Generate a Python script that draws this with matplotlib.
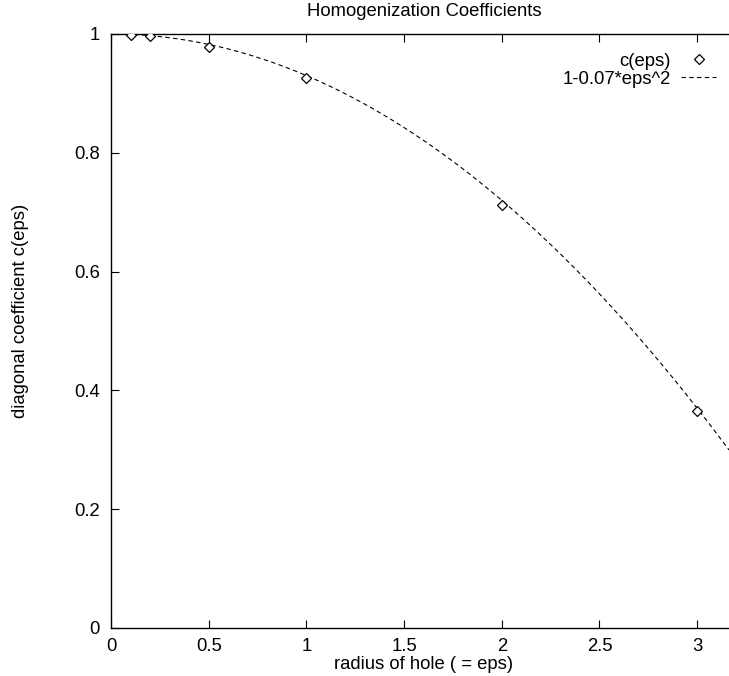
import numpy as np
import matplotlib
matplotlib.use("Agg")
import matplotlib.pyplot as plt

plt.rcParams['font.family'] = ['Liberation Sans', 'DejaVu Sans']

eps = [0.1, 0.2, 0.5, 1.0, 2.0, 3.0]
c_eps = [0.998, 0.996, 0.978, 0.926, 0.712, 0.365]
fit_coef = 0.07
x_max = 3.163

FS = 13.3

fig = plt.figure(figsize=(7.29, 6.76), dpi=100)
ax = fig.add_axes([111/729, 1-628/676, (729-111)/729, (628-34)/676])

xx = np.linspace(0, x_max, 400)
ax.plot(eps, c_eps, linestyle='none', marker='D', markersize=5, markerfacecolor='white',
        markeredgecolor='black', markeredgewidth=0.9, label='c(eps)', zorder=3)
ax.plot(xx, 1 - fit_coef*xx**2, color='black', linewidth=0.8, dashes=(4, 3),
        label='1-0.07*eps^2')

ax.set_xlim(0, x_max)
ax.set_ylim(0, 1)
ax.set_xticks([0, 0.5, 1, 1.5, 2, 2.5, 3])
ax.set_xticklabels(['0', '0.5', '1', '1.5', '2', '2.5', '3'])
ax.set_yticks([0, 0.2, 0.4, 0.6, 0.8, 1])
ax.set_yticklabels(['0', '0.2', '0.4', '0.6', '0.8', '1'])
ax.tick_params(direction='in', length=6, width=0.8, top=True, right=False,
               labelsize=FS, pad=7)
ax.tick_params(axis='y', pad=8)
ax.spines['right'].set_visible(False)
for s in ['left', 'top', 'bottom']:
    ax.spines[s].set_linewidth(1.0)

fig.text(424/729, 1 - 12/676, 'Homogenization Coefficients', fontsize=FS,
         ha='center', va='center')
ax.set_xlabel('radius of hole ( = eps)', fontsize=FS, va='center')
ax.xaxis.set_label_coords(0.505, -0.062)
ax.set_ylabel('diagonal coefficient c(eps)', fontsize=FS, va='center')
ax.yaxis.set_label_coords(-0.147, 0.534)

ax.legend(loc='upper right', bbox_to_anchor=(1.0, 0.99), frameon=False,
          markerfirst=False, fontsize=FS, handlelength=1.9, labelspacing=0.05,
          handletextpad=0.55, borderaxespad=0.3)

fig.savefig('out.png', dpi=100)
